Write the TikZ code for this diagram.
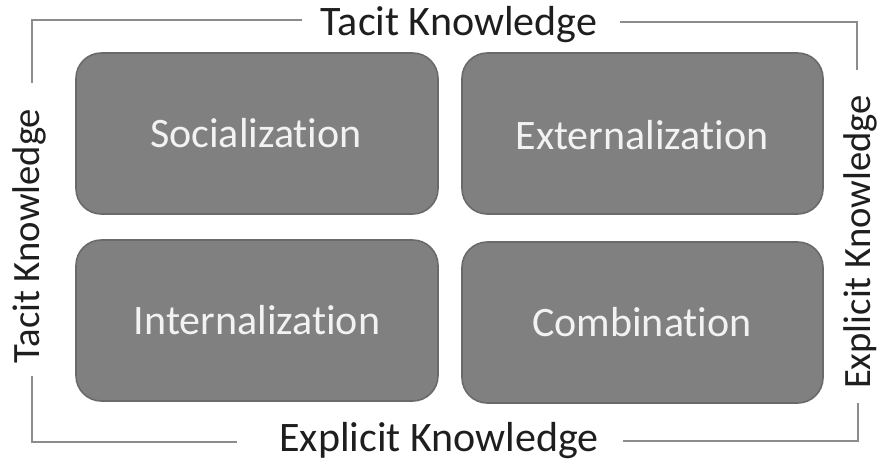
\documentclass[tikz,border=0pt]{standalone}
\usepackage{fontspec}
\setmainfont{Carlito}[Ligatures={NoCommon,NoRequired,NoContextual},Contextuals=NoAlternate]
\definecolor{boxfill}{HTML}{808080}
\definecolor{boxedge}{HTML}{6A6A6A}
\definecolor{rule}{HTML}{8C8C8C}
\definecolor{ink}{HTML}{1E1E1E}
\begin{document}
\begin{tikzpicture}[x=0.75pt,y=-0.75pt,
  quad/.style={draw=boxedge, line width=1.2pt, fill=boxfill, rounded corners=19pt},
  quadtext/.style={text=white!95!black, font=\fontsize{31.5}{34}\selectfont, inner sep=0pt},
  axis/.style={text=ink, font=\fontsize{31.5}{34}\selectfont, inner sep=0pt},
  sideaxis/.style={text=ink, font=\fontsize{29}{32}\selectfont, inner sep=0pt},
  bracket/.style={draw=rule, line width=1.4pt}]
\useasboundingbox (0,0) rectangle (878,462);

% the four quadrants
\path[quad] (76,53) rectangle (438,214);
\path[quad] (462,53) rectangle (823,214);
\path[quad] (76,240) rectangle (438,401);
\path[quad] (462,242) rectangle (823,403);
\node[quadtext] (soc) at (256,133.5) {Socializat\kern0pt ion};
\node[quadtext] (ext) at (642,135) {Externalizat\kern0pt ion};
\node[quadtext] (int) at (257,320.5) {Internalizat\kern0pt ion};
\node[quadtext] (com) at (642,322.5) {Combinat\kern0pt ion};

% axis labels
\node[axis] (top) at (459,25) {Tacit Knowledge};
\node[axis] (bottom) at (439,441) {Explicit Knowledge};
\node[sideaxis, rotate=90] (left) at (29,236) {Tacit Knowledge};
\node[sideaxis, rotate=90] (right) at (860,242) {Explicit Knowledge};

% corner points of the frame
\coordinate (tl) at (32,20);
\coordinate (tr) at (857,22);
\coordinate (bl) at (32,442);
\coordinate (br) at (858,441);

% frame segments between the labels
\draw[bracket] (302,20) coordinate (t1) -- (tl) -- ++(0,63) coordinate (l1);
\draw[bracket] (620,22) coordinate (t2) -- (tr) -- ++(0,48) coordinate (r1);
\draw[bracket] (bl) ++(0,-66) coordinate (l2) -- (bl) -- (237,442) coordinate (b1);
\draw[bracket] (br) ++(0,-38) coordinate (r2) -- (br) -- (623,441) coordinate (b2);
\end{tikzpicture}
\end{document}
